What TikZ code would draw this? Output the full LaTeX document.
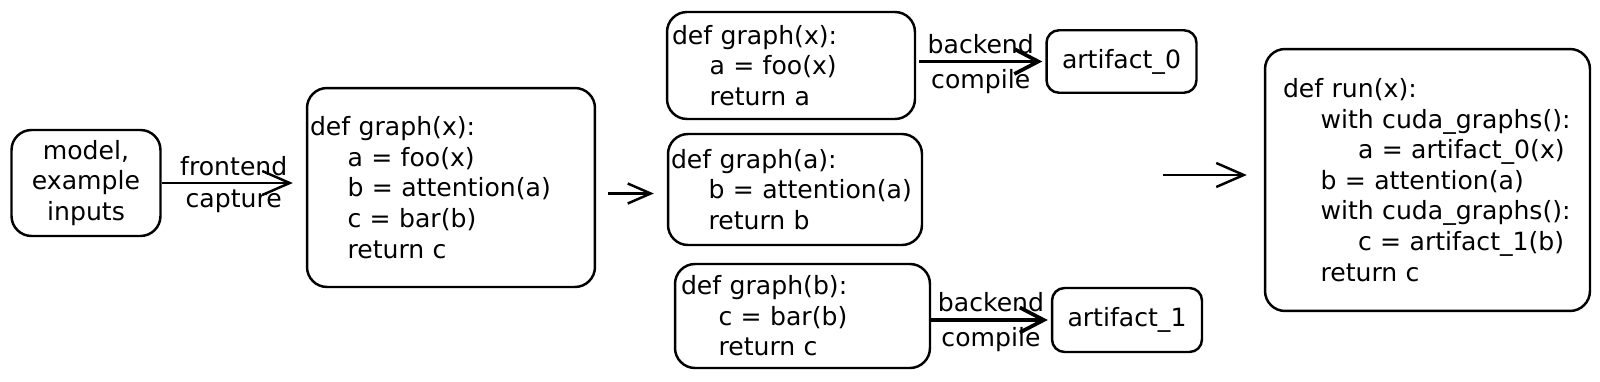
\documentclass[tikz,border=0pt]{standalone}
\usepackage{fontspec}
\setmainfont{DejaVu Sans}
\usetikzlibrary{arrows.meta}
\newcommand{\ind}{\hspace*{0.75cm}}
\begin{document}
\begin{tikzpicture}[x=0.02cm,y=-0.02cm,line width=1.4pt,
  every node/.style={font=\fontsize{14.3}{17.4}\selectfont},
  codebox/.style={draw,rounded corners=0.4cm,align=left},
  artbox/.style={draw,rounded corners=0.25cm,minimum width=3cm,minimum height=1.25cm},
  arr/.style={-{Straight Barb[length=0.55cm,width=0.48cm]}},
  backarr/.style={line width=2.1pt,-{Straight Barb[length=0.48cm,width=0.5cm]}}]
\useasboundingbox (0,0) rectangle (1600,382);
% inputs and captured graph
\node[codebox,align=center,minimum width=2.98cm,minimum height=2.12cm] (model) at (86,183) {model,\\example\\inputs};
\node[codebox,text width=5.64cm,inner xsep=0.06cm,minimum height=3.98cm] (graph) at (451,187.5) {def graph(x):\\\ind a = foo(x)\\\ind b = attention(a)\\\ind c = bar(b)\\\ind return c};
\draw[arr,shorten >=0.26cm] (model.east) -- (model.east -| graph.west) node[midway,above] {frontend} node[midway,below] {capture};
% split subgraphs
\node[codebox,text width=4.76cm,inner xsep=0.1cm,minimum height=2.14cm] (subA) at (791,65.5) {def graph(x):\\\ind a = foo(x)\\\ind return a};
\node[codebox,text width=4.96cm,inner xsep=0.06cm,minimum height=2.22cm] (subB) at (795,189.5) {def graph(a):\\\ind b = attention(a)\\\ind return b};
\node[codebox,text width=4.86cm,inner xsep=0.12cm,minimum height=2.08cm] (subC) at (802.5,316) {def graph(b):\\\ind c = bar(b)\\\ind return c};
\draw[shorten <=0.24cm,shorten >=0.26cm,-{Straight Barb[length=0.46cm,width=0.4cm]}] ([yshift=-0.12cm]graph.east) -- ([yshift=-0.12cm]graph.east -| subB.west);
% compiled artifacts
\node[artbox] (artA) at (1121.5,61.5) {artifact\_0};
\node[artbox,minimum height=1.28cm] (artB) at (1127,320) {artifact\_1};
\draw[backarr,shorten <=0.06cm,shorten >=0.06cm] (artA.west -| subA.east) -- (artA.west) node[midway,above] {backend} node[midway,below] {compile};
\draw[backarr,shorten >=0.06cm] (artB.west -| subC.east) -- (artB.west) node[midway,above] {backend} node[midway,below] {compile};
% runtime wrapper
\node[codebox,text width=5.78cm,inner xsep=0.36cm,minimum height=5.24cm] (run) at (1427.5,180) {def run(x):\\\ind with cuda\_graphs():\\\ind\ind a = artifact\_0(x)\\\ind b = attention(a)\\\ind with cuda\_graphs():\\\ind\ind c = artifact\_1(b)\\\ind return c};
\coordinate (runin) at (1163,175);
\draw[arr,shorten >=0.34cm] (runin) -- (runin -| run.west);
\end{tikzpicture}
\end{document}
